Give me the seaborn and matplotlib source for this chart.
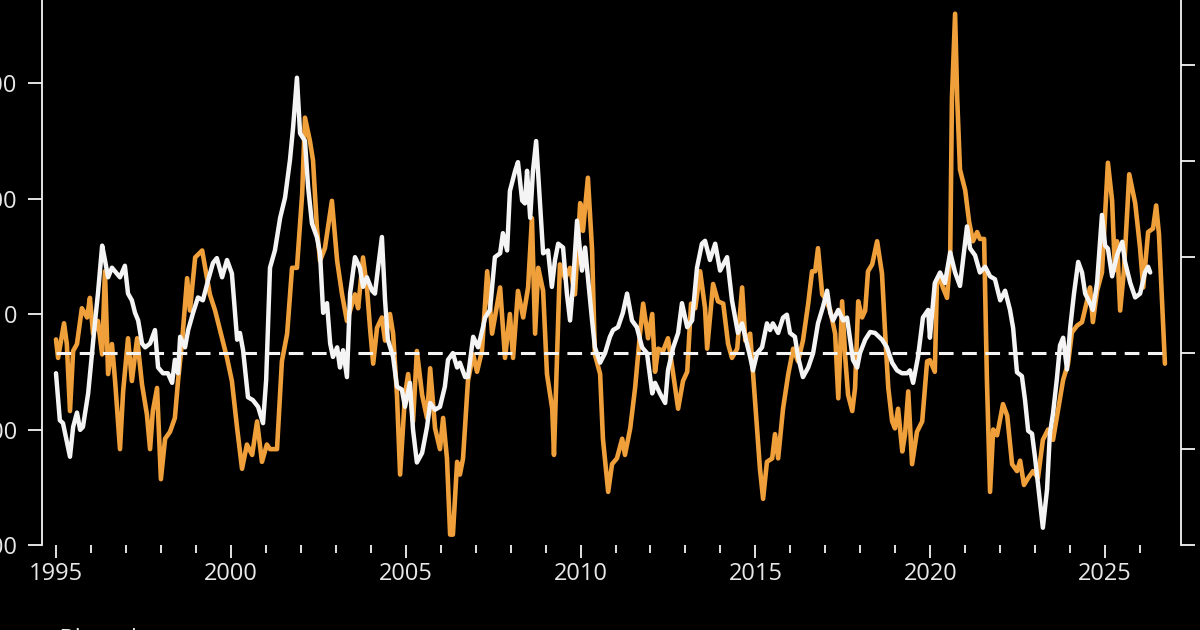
import pandas as pd
import seaborn as sns
import matplotlib.pyplot as plt
from matplotlib.ticker import FixedLocator

# orange series (left axis)
orange_year = [
    1995.00, 1995.06, 1995.23, 1995.31, 1995.40, 1995.49, 1995.60, 1995.74, 1995.89, 1995.97,
    1996.06, 1996.20, 1996.32, 1996.40, 1996.49, 1996.60, 1996.69, 1996.83, 1996.92,
    1997.06, 1997.17, 1997.32, 1997.46, 1997.60, 1997.69, 1997.77, 1997.89,
    1998.00, 1998.12, 1998.26, 1998.40, 1998.49, 1998.60, 1998.75, 1998.83, 1998.98,
    1999.18, 1999.32, 1999.40, 1999.55, 1999.75, 1999.89,
    2000.03, 2000.18, 2000.32, 2000.46, 2000.61, 2000.75, 2000.89,
    2001.03, 2001.12, 2001.32, 2001.46, 2001.61, 2001.75, 2001.89,
    2002.04, 2002.12, 2002.26, 2002.35, 2002.46, 2002.55, 2002.69, 2002.89,
    2003.04, 2003.18, 2003.32, 2003.41, 2003.55, 2003.64, 2003.78, 2003.89, 2003.98,
    2004.07, 2004.18, 2004.32, 2004.41, 2004.55, 2004.64, 2004.75, 2004.84, 2004.98,
    2005.07, 2005.21, 2005.32, 2005.47, 2005.61, 2005.70, 2005.84, 2005.98,
    2006.07, 2006.18, 2006.27, 2006.35, 2006.47, 2006.55, 2006.64, 2006.78, 2006.93,
    2007.04, 2007.18, 2007.33, 2007.47, 2007.70, 2007.84, 2007.98,
    2008.07, 2008.21, 2008.36, 2008.50, 2008.61, 2008.70, 2008.79, 2008.93,
    2009.04, 2009.19, 2009.24, 2009.33, 2009.41, 2009.56, 2009.70, 2009.84, 2009.99,
    2010.07, 2010.21, 2010.33, 2010.41, 2010.56, 2010.64, 2010.79, 2010.90,
    2011.04, 2011.19, 2011.27, 2011.42, 2011.56, 2011.70, 2011.79, 2011.93,
    2012.05, 2012.13, 2012.22, 2012.36, 2012.50, 2012.65, 2012.79, 2012.93,
    2013.05, 2013.16, 2013.28, 2013.42, 2013.56, 2013.62, 2013.79, 2013.93,
    2014.08, 2014.22, 2014.33, 2014.48, 2014.62, 2014.71, 2014.85, 2014.99,
    2015.13, 2015.22, 2015.33, 2015.48, 2015.56, 2015.65, 2015.79, 2015.94,
    2016.08, 2016.22, 2016.36, 2016.51, 2016.62, 2016.71, 2016.79, 2016.91, 2016.99,
    2017.14, 2017.28, 2017.37, 2017.48, 2017.57, 2017.65, 2017.77, 2017.85, 2017.94,
    2018.05, 2018.14, 2018.22, 2018.34, 2018.48, 2018.62, 2018.71, 2018.80, 2018.91, 2018.99,
    2019.08, 2019.20, 2019.28, 2019.37, 2019.48, 2019.62, 2019.77, 2019.91, 2019.99,
    2020.13, 2020.19, 2020.28, 2020.36, 2020.48, 2020.57, 2020.62, 2020.71, 2020.77, 2020.85,
    2021.00, 2021.11, 2021.22, 2021.34, 2021.42, 2021.54, 2021.62, 2021.71, 2021.80, 2021.91,
    2022.08, 2022.20, 2022.34, 2022.48, 2022.57, 2022.68, 2022.80, 2022.94,
    2023.08, 2023.22, 2023.37, 2023.51, 2023.65, 2023.80, 2023.94,
    2024.05, 2024.20, 2024.34, 2024.48, 2024.57, 2024.65, 2024.77, 2024.91,
    2025.00, 2025.08, 2025.20, 2025.28, 2025.34, 2025.43, 2025.54, 2025.69, 2025.86,
    2026.00, 2026.09, 2026.23, 2026.37, 2026.46, 2026.54, 2026.71,
]
orange_value = [
    -22, -38, -8, -26, -84, -32, -26, 5, -3, 14,
    -17, -6, -35, 37, -52, -26, -58, -117, -67,
    -21, -58, -21, -61, -87, -117, -84, -64,
    -143, -108, -102, -90, -58, -26, 31, 3, 49,
    55, 31, 17, 3, -21, -38,
    -58, -99, -134, -113, -122, -93, -128,
    -113, -117, -117, -41, -17, 40, 40,
    104, 170, 150, 133, 75, 46, 57, 98,
    46, 17, -6, 3, 17, 5, 49, 23, -12,
    -43, -12, -3, -23, 0, -17, -70, -139, -70,
    -52, -93, -32, -70, -90, -47, -99, -117,
    -90, -125, -191, -191, -128, -139, -125, -58, -35,
    -50, -32, 37, -17, 23, -38, 0,
    -38, 20, -3, 23, 83, -17, 40, 20,
    -52, -82, -122, -35, 43, 31, 40, 17, 96,
    72, 118, 55, -35, -52, -108, -154, -130,
    -125, -108, -122, -99, -64, -17, 9, -21,
    0, -50, -30, -32, -21, -52, -82, -58,
    -50, 9, 5, 37, 5, -30, 26, 11,
    9, -26, -38, -30, 23, -23, -17, -76,
    -134, -160, -128, -125, -104, -125, -82, -52,
    -30, -41, -23, 9, 37, 37, 57, 17, 14,
    3, -17, -73, 11, -38, -70, -84, -64, 11,
    -3, 3, 37, 43, 63, 35, -17, -64, -93, -99,
    -82, -119, -104, -67, -130, -102, -93, -41, -40,
    -50, 26, 32, 23, 14, 50, 187, 260, 187, 125,
    107, 80, 63, 71, 65, 65, -57, -154, -100, -105,
    -78, -88, -130, -136, -127, -148, -142, -136,
    -142, -109, -100, -109, -84, -57, -43,
    -16, -10, -7, 11, 23, -7, 20, 36,
    86, 131, 98, 38, 63, 3, 38, 121, 96,
    57, 23, 71, 74, 94, 69, -43,
]

# white series (right axis)
white_year = [
    1995.00, 1995.11, 1995.20, 1995.40, 1995.49, 1995.60, 1995.69, 1995.77, 1995.92,
    1996.03, 1996.12, 1996.20, 1996.32, 1996.40, 1996.49, 1996.60, 1996.74, 1996.83, 1996.97,
    1997.06, 1997.17, 1997.26, 1997.35, 1997.46, 1997.55, 1997.69, 1997.83, 1997.92,
    1998.06, 1998.20, 1998.32, 1998.40, 1998.49, 1998.55, 1998.69, 1998.78, 1998.92,
    1999.06, 1999.20, 1999.35, 1999.49, 1999.60, 1999.75, 1999.89,
    2000.03, 2000.18, 2000.26, 2000.35, 2000.49, 2000.63, 2000.78, 2000.92,
    2001.01, 2001.12, 2001.26, 2001.41, 2001.55, 2001.69, 2001.78, 2001.89, 2001.98,
    2002.12, 2002.21, 2002.32, 2002.46, 2002.55, 2002.64, 2002.75, 2002.84, 2002.92,
    2003.04, 2003.12, 2003.21, 2003.32, 2003.41, 2003.55, 2003.69, 2003.78, 2003.89,
    2004.04, 2004.12, 2004.21, 2004.32, 2004.41, 2004.49, 2004.64, 2004.75, 2004.89, 2004.98,
    2005.12, 2005.21, 2005.32, 2005.47, 2005.61, 2005.70, 2005.84, 2005.98,
    2006.12, 2006.21, 2006.35, 2006.47, 2006.55, 2006.70, 2006.78, 2006.93,
    2007.07, 2007.21, 2007.27, 2007.41, 2007.55, 2007.70, 2007.78, 2007.90, 2007.98,
    2008.13, 2008.21, 2008.33, 2008.41, 2008.47, 2008.56, 2008.64, 2008.73, 2008.84, 2008.93,
    2009.07, 2009.18, 2009.27, 2009.36, 2009.50, 2009.61, 2009.70, 2009.78, 2009.90,
    2010.04, 2010.13, 2010.21, 2010.33, 2010.41, 2010.56, 2010.70, 2010.84, 2010.93,
    2011.07, 2011.21, 2011.33, 2011.47, 2011.61, 2011.76, 2011.90,
    2012.05, 2012.13, 2012.27, 2012.42, 2012.50, 2012.65, 2012.79, 2012.90,
    2013.05, 2013.19, 2013.33, 2013.47, 2013.56, 2013.70, 2013.85, 2013.99,
    2014.19, 2014.33, 2014.42, 2014.50, 2014.62, 2014.71, 2014.85, 2014.93,
    2015.05, 2015.19, 2015.33, 2015.42, 2015.50, 2015.65, 2015.79, 2015.90, 2015.99,
    2016.13, 2016.22, 2016.36, 2016.51, 2016.65, 2016.79, 2016.93,
    2017.05, 2017.14, 2017.22, 2017.37, 2017.51, 2017.62, 2017.71, 2017.79, 2017.91, 2017.99,
    2018.14, 2018.28, 2018.42, 2018.62, 2018.76, 2018.91,
    2019.05, 2019.19, 2019.34, 2019.42, 2019.51, 2019.65, 2019.79, 2019.94, 2019.99,
    2020.13, 2020.28, 2020.42, 2020.57, 2020.71, 2020.85,
    2021.00, 2021.05, 2021.14, 2021.28, 2021.42, 2021.57, 2021.71, 2021.85,
    2022.00, 2022.14, 2022.28, 2022.37, 2022.48, 2022.62, 2022.71, 2022.80, 2022.91,
    2023.00, 2023.14, 2023.22, 2023.34, 2023.42, 2023.51, 2023.62, 2023.71, 2023.80, 2023.91,
    2024.00, 2024.11, 2024.23, 2024.34, 2024.43, 2024.57, 2024.65, 2024.77, 2024.91,
    2025.00, 2025.08, 2025.20, 2025.34, 2025.49, 2025.57, 2025.72, 2025.86,
    2026.00, 2026.14, 2026.23, 2026.29,
]
white_value = [
    -0.21, -0.70, -0.73, -1.08, -0.77, -0.62, -0.80, -0.77, -0.42,
    0.00, 0.34, 0.62, 1.12, 0.97, 0.79, 0.89, 0.83, 0.79, 0.91,
    0.62, 0.55, 0.42, 0.34, 0.10, 0.06, 0.10, 0.24, -0.15,
    -0.21, -0.21, -0.31, -0.07, -0.21, 0.17, 0.06, 0.24, 0.42,
    0.58, 0.55, 0.76, 0.94, 0.99, 0.79, 0.97,
    0.83, 0.14, 0.21, 0.03, -0.46, -0.49, -0.56, -0.73,
    -0.28, 0.89, 1.07, 1.41, 1.62, 2.01, 2.35, 2.87, 2.29,
    2.21, 1.73, 1.35, 1.21, 1.04, 0.42, 0.52, 0.10, -0.04,
    0.06, -0.15, 0.03, -0.25, 0.62, 1.00, 0.89, 0.69, 0.79,
    0.65, 0.62, 0.89, 1.21, 0.55, 0.14, -0.04, -0.35, -0.38, -0.56,
    -0.31, -0.80, -1.14, -1.04, -0.77, -0.52, -0.59, -0.56,
    -0.35, -0.07, 0.00, -0.15, -0.10, -0.25, -0.25, 0.17,
    0.06, 0.27, 0.37, 0.45, 1.00, 1.04, 1.25, 1.07, 1.69,
    1.90, 1.99, 1.59, 1.56, 1.90, 1.41, 1.90, 2.21, 1.56, 1.04,
    1.07, 0.69, 0.97, 1.14, 1.10, 0.62, 0.34, 0.69, 1.38,
    0.86, 1.10, 0.79, 0.34, 0.06, -0.10, 0.00, 0.17, 0.24,
    0.27, 0.42, 0.62, 0.34, 0.27, 0.06, 0.00,
    -0.42, -0.31, -0.42, -0.52, -0.18, 0.06, 0.21, 0.52,
    0.27, 0.34, 0.89, 1.14, 1.17, 0.97, 1.14, 0.86,
    1.00, 0.55, 0.37, 0.21, 0.31, 0.17, -0.04, -0.18,
    0.00, 0.06, 0.31, 0.24, 0.31, 0.21, 0.37, 0.40, 0.21,
    0.17, -0.04, -0.25, -0.15, 0.00, 0.31, 0.48,
    0.65, 0.42, 0.34, 0.45, 0.34, 0.37, 0.14, -0.07, -0.15, 0.00,
    0.14, 0.22, 0.21, 0.14, 0.06, -0.10,
    -0.18, -0.21, -0.21, -0.18, -0.31, -0.04, 0.37, 0.45, 0.16,
    0.73, 0.84, 0.73, 1.05, 0.84, 0.70,
    1.16, 1.32, 1.09, 1.02, 0.84, 0.90, 0.80, 0.77,
    0.55, 0.65, 0.45, 0.26, -0.20, -0.24, -0.49, -0.81, -0.84,
    -1.10, -1.56, -1.82, -1.42, -0.84, -0.63, -0.27, 0.08, 0.16, -0.17,
    0.26, 0.62, 0.95, 0.84, 0.62, 0.52, 0.45, 0.73, 1.44,
    1.12, 1.09, 0.80, 1.02, 1.16, 0.95, 0.73, 0.58,
    0.62, 0.84, 0.90, 0.84,
]

left_ticks = [-200, -100, 0, 100, 200]
right_ticks = [-2, -1, 0, 1, 2, 3]
major_years = [1995, 2000, 2005, 2010, 2015, 2020, 2025]
minor_years = list(range(1995, 2027))

orange_color = "#F0A03A"
white_color = "#F4F4F4"
text_color = "#E8E8E8"

sns.set_theme(style="dark")
plt.rcParams["font.family"] = ["Open Sans", "DejaVu Sans"]

fig = plt.figure(figsize=(12, 6.3), dpi=100, facecolor="black")
ax = fig.add_axes([42 / 1200, 85 / 630, (1181 - 42) / 1200, 545 / 630])
ax.set_facecolor("black")
ax2 = ax.twinx()

orange = pd.DataFrame({"year": orange_year, "value": orange_value})
white = pd.DataFrame({"year": white_year, "value": white_value})

sns.lineplot(data=orange, x="year", y="value", ax=ax, color=orange_color,
             linewidth=3.3, sort=False, estimator=None)
sns.lineplot(data=white, x="year", y="value", ax=ax2, color=white_color,
             linewidth=3.2, sort=False, estimator=None)
# dashed zero line on the right axis
ax2.hlines(0, orange_year[0], orange_year[-1], colors=white_color,
           linewidth=2.2, linestyles=(0, (4.8, 2.8)), zorder=5)

ax.set_xlim(1994.6, 2027.17)
ax.set_ylim(-200, 271.9)
ax2.set_ylim(-2, 3.68)

for a in (ax, ax2):
    a.grid(False)
    a.set_xlabel("")
    a.set_ylabel("")
    for s in a.spines.values():
        s.set_visible(False)
ax.spines["left"].set_visible(True)
ax.spines["left"].set_color(white_color)
ax.spines["left"].set_linewidth(1.3)
ax2.spines["right"].set_visible(True)
ax2.spines["right"].set_color(white_color)
ax2.spines["right"].set_linewidth(1.3)

ax.xaxis.set_major_locator(FixedLocator(major_years))
ax.xaxis.set_minor_locator(FixedLocator(minor_years))
ax.set_xticklabels([str(y) for y in major_years])
ax.tick_params(axis="x", which="major", length=9, width=1.3, color=white_color,
               labelcolor=text_color, labelsize=17, pad=3, bottom=True)
ax.tick_params(axis="x", which="minor", length=6, width=1.3, color=white_color,
               bottom=True)

ax.set_yticks(left_ticks)
ax.set_yticklabels([str(v) for v in left_ticks])
ax.tick_params(axis="y", length=10, width=1.3, color=white_color,
               labelcolor=text_color, labelsize=17, pad=8, left=True)
ax2.set_yticks(right_ticks)
ax2.set_yticklabels([str(v) for v in right_ticks])
ax2.tick_params(axis="y", length=10, width=1.3, color=white_color,
                labelcolor=text_color, labelsize=17, pad=12, right=True)

fig.text(-29 / 1200, -0.025, "Source: Bloomberg", color=text_color,
         fontsize=17, ha="left", va="baseline")

fig.savefig("out.png", dpi=100, facecolor="black")
